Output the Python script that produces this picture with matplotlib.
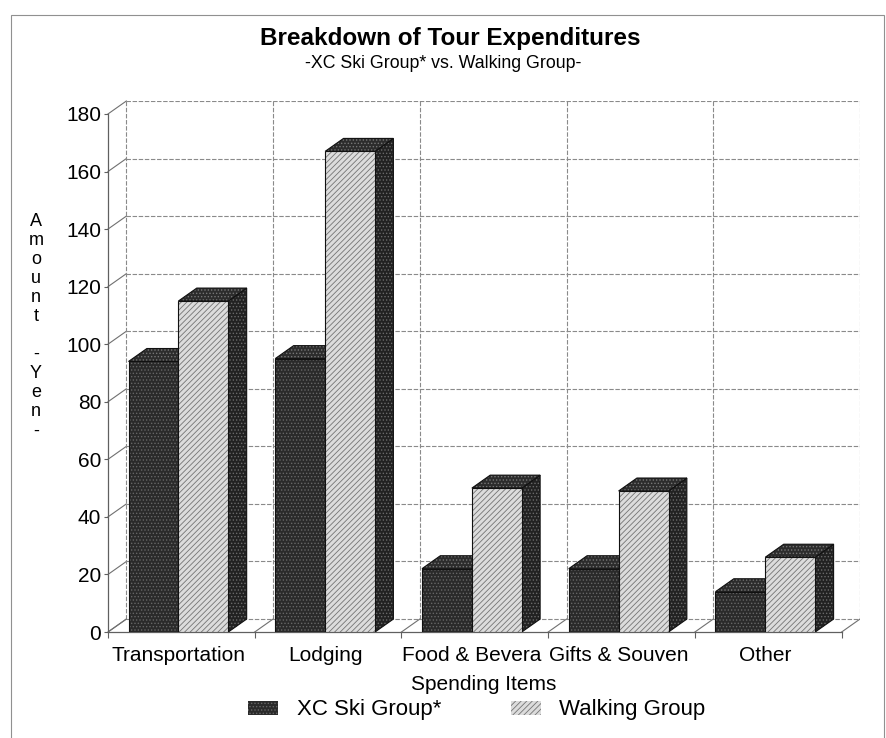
import numpy as np
import matplotlib.pyplot as plt
from matplotlib.patches import Polygon, Patch

plt.rcParams['font.family'] = ['Liberation Sans', 'DejaVu Sans']
plt.rcParams['hatch.linewidth'] = 0.6

# Spending per item (yen)
items = ["Transportation", "Lodging", "Food & Bevera", "Gifts & Souven", "Other"]
xc_ski = [94, 95, 22, 22, 14]
walking = [115, 167, 50, 49, 26]
yticks = [0, 20, 40, 60, 80, 100, 120, 140, 160, 180]

# fake 3d depth: x offset in category units, y offset in value units
DX = 0.125
DY = 4.5
YMAX = 180
n = len(items)
FS = 15

W, H = 886, 738
fig = plt.figure(figsize=(W / 100, H / 100), dpi=100)
ax = fig.add_axes([108 / W, 106 / H, 752 / W, 531 / H])
ax.set_xlim(0, n + DX)
ax.set_ylim(0, YMAX + DY)
for s in ax.spines.values():
    s.set_visible(False)

grid_kw = dict(color='#8a8a8a', lw=0.8, ls=(0, (4, 1.5)), zorder=1)

# back wall
for v in yticks:
    ax.plot([DX, n + DX], [v + DY, v + DY], **grid_kw)
    # left wall diagonals
    ax.plot([0, DX], [v, v + DY], color='#707070', lw=0.8, zorder=1, clip_on=False)
for i in range(n + 1):
    ax.plot([i + DX, i + DX], [DY, YMAX + DY], **grid_kw)
    # floor diagonals
    ax.plot([i, i + DX], [0, DY], color='#707070', lw=0.8, zorder=1)
ax.plot([0, 0], [0, YMAX], color='#606060', lw=0.9, zorder=1, clip_on=False)
ax.plot([0, n], [0, 0], color='#606060', lw=0.9, zorder=1, clip_on=False)


def face(verts, fc, hatch, hc):
    ax.add_patch(Polygon(verts, closed=True, facecolor=fc, edgecolor='none', zorder=3))
    ax.add_patch(Polygon(verts, closed=True, facecolor='none', edgecolor=hc,
                         hatch=hatch, linewidth=0, zorder=3))
    ax.add_patch(Polygon(verts, closed=True, facecolor='none', edgecolor='#111111',
                         linewidth=0.8, zorder=3))


def bar3d(x0, w, v, fc, hatch, hc):
    x1 = x0 + w
    # side and top faces are dark stipple for both series
    face([(x1, 0), (x1 + DX, DY), (x1 + DX, v + DY), (x1, v)], '#222222', '.....', '#6a6a6a')
    face([(x0, v), (x0 + DX, v + DY), (x1 + DX, v + DY), (x1, v)], '#2c2c2c', '.....', '#777777')
    ax.bar([x0], [v], width=w, align='edge', color=fc, edgecolor='none', zorder=3)
    ax.bar([x0], [v], width=w, align='edge', color='none', edgecolor=hc,
           hatch=hatch, linewidth=0, zorder=3)
    ax.bar([x0], [v], width=w, align='edge', color='none', edgecolor='#111111',
           linewidth=0.8, zorder=3)


bw = 0.34
for i in range(n):
    bar3d(i + 0.14, bw, xc_ski[i], '#2a2a2a', '.....', '#666666')
    bar3d(i + 0.14 + bw, bw, walking[i], '#dcdcdc', '//////', '#747474')

ax.set_yticks(yticks)
ax.set_yticklabels([str(t) for t in yticks], fontsize=FS)
ax.tick_params(axis='y', length=3, width=0.8, color='#606060', pad=2)
ax.set_xticks([i + 0.48 for i in range(n)])
ax.set_xticklabels(items, fontsize=FS)
ax.set_xticks(range(n + 1), minor=True)
ax.tick_params(axis='x', which='major', length=0, pad=10)
ax.tick_params(axis='x', which='minor', length=4, width=0.8, color='#606060')
ax.set_xlabel("Spending Items", fontsize=FS, labelpad=7)

fig.text(450 / W, 1 - 38 / H, "Breakdown of Tour Expenditures", fontsize=17.5,
         fontweight='bold', ha='center', va='center')
fig.text(443 / W, 1 - 63 / H, "-XC Ski Group* vs. Walking Group-", fontsize=12.8,
         ha='center', va='center')
fig.text(36 / W, 1 - 326 / H, "\n".join(list("Amount") + ["", "-", "Y", "e", "n", "-"]),
         fontsize=13, ha='center', va='center', linespacing=1.16)

handles = [
    Patch(facecolor='#2a2a2a', edgecolor='#666666', hatch='.....', linewidth=0),
    Patch(facecolor='#dcdcdc', edgecolor='#747474', hatch='//////', linewidth=0),
]
fig.legend(handles, ["XC Ski Group*", "Walking Group"], loc='center',
           bbox_to_anchor=(477 / W, 1 - 710 / H), ncol=2, frameon=False, fontsize=16,
           handlelength=1.35, handleheight=0.6, handletextpad=0.85, columnspacing=3.1)

# outer frame
fig.add_artist(plt.Rectangle((11 / W, -0.01), (884 - 11) / W, 1.01 - 15 / H,
                             transform=fig.transFigure, fill=False,
                             edgecolor='#909090', lw=0.8))

fig.savefig("out.png", dpi=100)
